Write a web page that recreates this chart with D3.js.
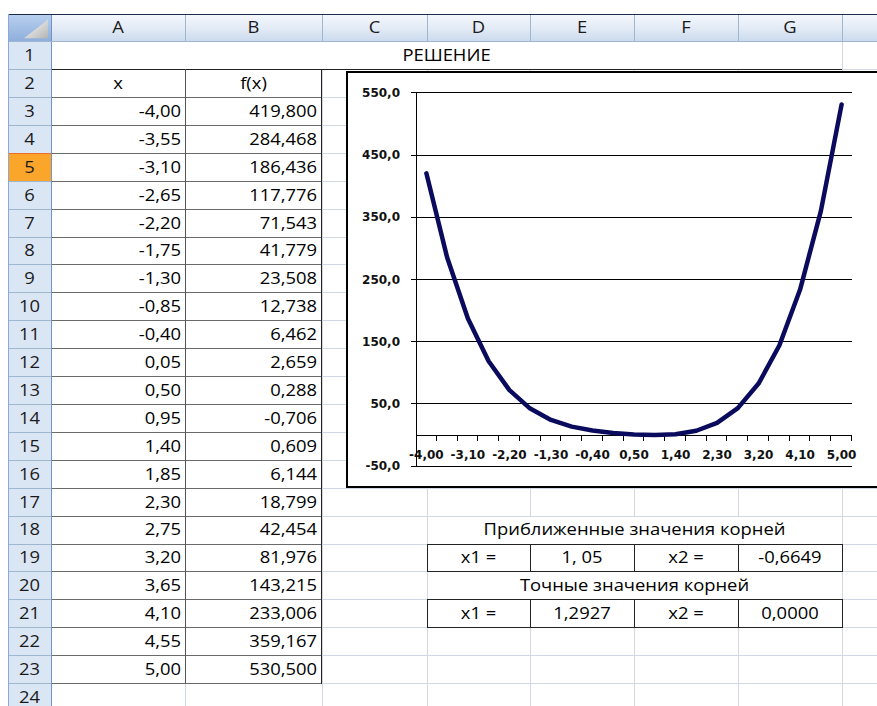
<!DOCTYPE html>
<html><head><meta charset="utf-8">
<script src="https://cdn.jsdelivr.net/npm/d3@7"></script>
<style>html,body{margin:0;padding:0;background:#fff;overflow:hidden}</style>
</head><body>
<svg id="c" width="877" height="706"></svg>
<script>
// ---------- data ----------
const xValues = [-4.00,-3.55,-3.10,-2.65,-2.20,-1.75,-1.30,-0.85,-0.40,0.05,0.50,0.95,1.40,1.85,2.30,2.75,3.20,3.65,4.10,4.55,5.00];
const fValues = [419.800,284.468,186.436,117.776,71.543,41.779,23.508,12.738,6.462,2.659,0.288,-0.706,0.609,6.144,18.799,42.454,81.976,143.215,233.006,359.167,530.500];
const yTicks = [-50,50,150,250,350,450,550];
const columnLetters = ["A","B","C","D","E","F","G"];
const rowNumbers = d3.range(1,25);
const titleText = "РЕШЕНИЕ";
const tableHeaders = ["x","f(x)"];
const approxTitle = "Приближенные значения корней";
const approxRow = ["x1 =","1, 05","x2 =","-0,6649"];
const exactTitle = "Точные значения корней";
const exactRow = ["x1 =","1,2927","x2 =","0,0000"];
const selectedRow = 5;

// ---------- layout / style ----------
const colEdges = [8,51,185,322,427,530,634,738,842,946];
const headTop = 13.5, headBottom = 41.3, rowH = 27.9;
const rowY = d3.scaleLinear().domain([1,25]).range([headBottom, headBottom + 24*rowH]);
const SHEET_FONT = "'Open Sans', 'Noto Sans', sans-serif";
const SHEET_SIZE = 16;
const SX = 1.15;
const CHART_FONT = "'DejaVu Sans', Verdana, sans-serif";
const gridColor = "#d0d7e5";

const loc = d3.formatLocale({decimal:",", thousands:" ", grouping:[3], currency:["",""], minus:"-"});
const f2 = loc.format(".2f"), f3 = loc.format(".3f"), f1 = loc.format(".1f");

const svg = d3.select("#c");
const defs = svg.append("defs");
const hg = defs.append("linearGradient").attr("id","hg").attr("x1",0).attr("y1",0).attr("x2",0).attr("y2",1);
hg.append("stop").attr("offset","0%").attr("stop-color","#f6f9fd");
hg.append("stop").attr("offset","55%").attr("stop-color","#e2eaf5");
hg.append("stop").attr("offset","100%").attr("stop-color","#cbdaee");
const cg = defs.append("linearGradient").attr("id","cg").attr("x1",0).attr("y1",0).attr("x2",0).attr("y2",1);
cg.append("stop").attr("offset","0%").attr("stop-color","#b9d0ee");
cg.append("stop").attr("offset","100%").attr("stop-color","#8eaedc");
const tg = defs.append("linearGradient").attr("id","tg").attr("x1",0).attr("y1",0).attr("x2",1).attr("y2",1);
tg.append("stop").attr("offset","0%").attr("stop-color","#ffffff");
tg.append("stop").attr("offset","100%").attr("stop-color","#b4b4b4");

function txt(g, x, y, s, anchor, o={}) {
  return g.append("text")
    .attr("transform", `translate(${x},${y}) scale(${o.sx ?? SX},1)`)
    .attr("text-anchor", anchor)
    .attr("font-family", o.font ?? SHEET_FONT)
    .attr("font-size", o.size ?? SHEET_SIZE)
    .attr("font-weight", o.weight ?? 500)
    .attr("fill", o.fill ?? "#000")
    .text(s);
}
const colL = c => colEdges[c+1];      // c: 0 = A
const colR = c => colEdges[c+2];
const baseOff = 19.8;

// ---------- cell gridlines ----------
const grid = svg.append("g").attr("shape-rendering","crispEdges");
rowNumbers.forEach(r => {
  grid.append("line").attr("x1",51).attr("x2",877).attr("y1",Math.round(rowY(r+1))+0.5).attr("y2",Math.round(rowY(r+1))+0.5).attr("stroke",gridColor);
});
colEdges.slice(2,9).forEach(xe => {
  grid.append("line").attr("x1",xe+0.5).attr("x2",xe+0.5).attr("y1",headBottom).attr("y2",706).attr("stroke",gridColor);
});
// merged cells (white cover)
function merge(c0,c1,r){
  svg.append("rect").attr("x",colL(c0)+1).attr("y",Math.round(rowY(r))+1)
    .attr("width",colR(c1)-colL(c0)-1).attr("height",Math.round(rowY(r+1))-Math.round(rowY(r))-1).attr("fill","#fff");
}
merge(0,6,1); merge(3,6,18); merge(3,6,20);

// ---------- cell contents ----------
const cells = svg.append("g");
txt(cells, (colL(0)+colR(6))/2, rowY(1)+baseOff, titleText, "middle");
tableHeaders.forEach((h,i)=> txt(cells,(colL(i)+colR(i))/2, rowY(2)+baseOff, h, "middle"));
xValues.forEach((v,i)=>{
  txt(cells, colR(0)-4, rowY(3+i)+baseOff, f2(v), "end");
  txt(cells, colR(1)-5, rowY(3+i)+baseOff, f3(fValues[i]), "end");
});
txt(cells,(colL(3)+colR(6))/2,rowY(18)+baseOff,approxTitle,"middle");
approxRow.forEach((s,i)=> txt(cells,(colL(3+i)+colR(3+i))/2,rowY(19)+baseOff,s,"middle"));
txt(cells,(colL(3)+colR(6))/2,rowY(20)+baseOff,exactTitle,"middle");
exactRow.forEach((s,i)=> txt(cells,(colL(3+i)+colR(3+i))/2,rowY(21)+baseOff,s,"middle"));

// ---------- borders ----------
const bd = svg.append("g").attr("shape-rendering","crispEdges");
const hl = (x1,x2,yv,c)=> bd.append("line").attr("x1",x1).attr("x2",x2).attr("y1",Math.round(yv)+0.5).attr("y2",Math.round(yv)+0.5).attr("stroke",c);
const vl = (xv,y1,y2,c)=> bd.append("line").attr("x1",xv+0.5).attr("x2",xv+0.5).attr("y1",Math.round(y1)).attr("y2",Math.round(y2)+1).attr("stroke",c);
hl(colL(0), colR(6), rowY(2)-0.5, "#222");
d3.range(3,25).forEach(r=> hl(colL(0), colR(1), rowY(r), "#6a6a6a"));
vl(colR(0), rowY(2), rowY(24), "#555");
vl(colR(1)-1, rowY(2), rowY(24), "#222");
[19,21].forEach(r=>{
  hl(colL(3), colR(6), rowY(r), "#222");
  hl(colL(3), colR(6), rowY(r+1), "#222");
  d3.range(3,8).forEach(c=> vl(colEdges[c+1], rowY(r), rowY(r+1), "#222"));
});

// ---------- headers ----------
const hdr = svg.append("g").attr("shape-rendering","crispEdges");
hdr.append("rect").attr("x",51).attr("y",headTop).attr("width",877-51).attr("height",headBottom-headTop).attr("fill","url(#hg)");
hdr.append("rect").attr("x",8).attr("y",headBottom).attr("width",43).attr("height",706-headBottom).attr("fill","#dbe6f5");
hdr.append("rect").attr("x",8).attr("y",rowY(selectedRow)).attr("width",43).attr("height",rowH).attr("fill","#fba52a");
rowNumbers.forEach(r=>{
  hdr.append("line").attr("x1",8).attr("x2",51).attr("y1",Math.round(rowY(r+1))+0.5).attr("y2",Math.round(rowY(r+1))+0.5).attr("stroke","#9eb6ce");
});
hdr.append("line").attr("x1",8).attr("x2",51).attr("y1",Math.round(rowY(selectedRow))+0.5).attr("y2",Math.round(rowY(selectedRow))+0.5).attr("stroke","#e8702a");
colEdges.slice(2,9).forEach(xe=>{
  hdr.append("line").attr("x1",xe+0.5).attr("x2",xe+0.5).attr("y1",headTop).attr("y2",headBottom).attr("stroke","#9eb6ce");
});
hdr.append("line").attr("x1",51.5).attr("x2",51.5).attr("y1",headTop).attr("y2",706).attr("stroke","#6f95c6");
hdr.append("line").attr("x1",8).attr("x2",877).attr("y1",Math.round(headBottom)+0.5).attr("y2",Math.round(headBottom)+0.5).attr("stroke","#9eb6ce");
hdr.append("line").attr("x1",8).attr("x2",877).attr("y1",Math.round(headTop)+0.5).attr("y2",Math.round(headTop)+0.5).attr("stroke","#1c2c4c");
hdr.append("line").attr("x1",8.5).attr("x2",8.5).attr("y1",headTop).attr("y2",706).attr("stroke","#8aa9d4");
// corner
hdr.append("rect").attr("x",9).attr("y",headTop+1).attr("width",42).attr("height",headBottom-headTop-1).attr("fill","url(#cg)");
hdr.append("path").attr("d",`M${48},${headTop+6}L${48},${headBottom-3}L${24},${headBottom-3}Z`).attr("fill","url(#tg)").attr("shape-rendering","auto");
columnLetters.forEach((l,i)=> txt(hdr,(colL(i)+colR(i))/2, headTop+19.8, l, "middle",{fill:"#1a1a1a"}));
rowNumbers.forEach(r=> txt(hdr, 29.5, rowY(r)+baseOff, String(r), "middle",{fill:"#1a1a1a"}));

// ---------- chart ----------
const ch = svg.append("g");
ch.append("rect").attr("x",347).attr("y",72).attr("width",600).attr("height",415).attr("fill","#fff").attr("stroke","#000").attr("stroke-width",2);
const plot = {left:416, right:852, top:92.3, bottom:465.7};
const x = d3.scaleBand().domain(d3.range(xValues.length)).range([plot.left, plot.right]);
const y = d3.scaleLinear().domain([-50,550]).range([plot.bottom, plot.top]);
const cx = i => x(i) + x.bandwidth()/2;
const gl = ch.append("g").attr("shape-rendering","crispEdges");
yTicks.forEach(v=>{
  const yy = Math.round(y(v))+0.5;
  gl.append("line").attr("x1",plot.left-5).attr("x2",plot.right).attr("y1",yy).attr("y2",yy).attr("stroke","#000");
  ch.append("text").attr("x",400).attr("y",y(v)+4.5).attr("text-anchor","end")
    .attr("font-family",CHART_FONT).attr("font-size",12).attr("font-weight","bold").attr("fill","#111").text(f1(v));
});
gl.append("line").attr("x1",plot.left+0.5).attr("x2",plot.left+0.5).attr("y1",plot.top).attr("y2",plot.bottom).attr("stroke","#000");
const y0 = Math.round(y(0))+0.5;
gl.append("line").attr("x1",plot.left).attr("x2",plot.right).attr("y1",y0).attr("y2",y0).attr("stroke","#000");
d3.range(1, xValues.length+1).forEach(i=>{
  const xx = Math.round(plot.left + i*x.bandwidth())-0.5;
  gl.append("line").attr("x1",xx).attr("x2",xx).attr("y1",y0).attr("y2",y0+5).attr("stroke","#000");
});
xValues.forEach((v,i)=>{
  if (i%2) return;
  ch.append("text").attr("x",cx(i)).attr("y",y(-50)-6.5).attr("text-anchor","middle")
    .attr("font-family",CHART_FONT).attr("font-size",12).attr("font-weight","bold").attr("fill","#111").text(f2(v));
});
ch.append("path").datum(fValues)
  .attr("d", d3.line().x((d,i)=>cx(i)).y(d=>y(d)))
  .attr("fill","none").attr("stroke","#0b0b5e").attr("stroke-width",4.5)
  .attr("stroke-linejoin","round").attr("stroke-linecap","round");
</script>
</body></html>
